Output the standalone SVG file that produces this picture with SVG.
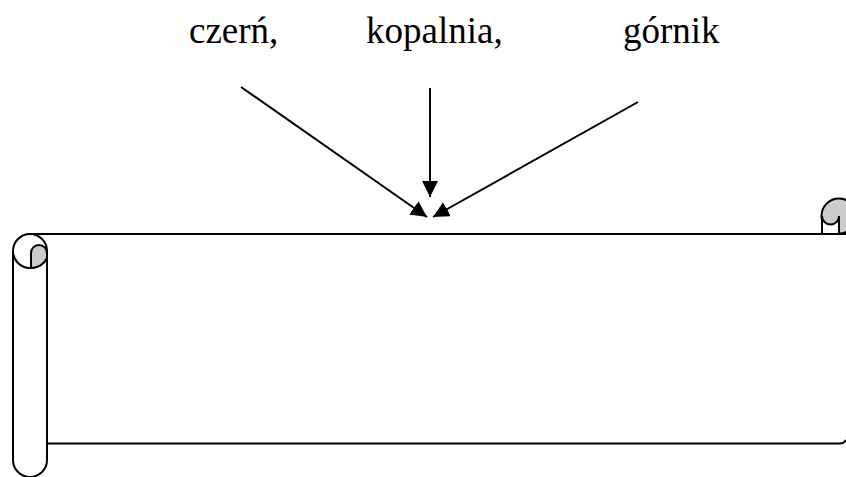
<svg xmlns="http://www.w3.org/2000/svg" width="846" height="477" viewBox="0 0 846 477">
<style>
.ln{stroke:#000;stroke-width:2;fill:none}
.t{font-family:"Liberation Serif","Times New Roman",serif;font-size:37px;fill:#000}
.gray{fill:#cccccc;stroke:#000;stroke-width:2}
</style>
<defs>
<marker id="arr" viewBox="0 0 16 16" refX="16" refY="8" markerWidth="16" markerHeight="16" markerUnits="userSpaceOnUse" orient="auto">
<path d="M0,0 L16,8 L0,16 Z" fill="#000"/>
</marker>
</defs>
<rect width="846" height="477" fill="#fff"/>
<g id="labels">
<text class="t" x="189" y="43">czerń,</text>
<text class="t" x="366" y="43">kopalnia,</text>
<text class="t" x="623" y="43">górnik</text>
</g>
<g id="scroll">
<path class="ln" d="M30,234 L846,234"/>
<path class="ln" d="M47,443.5 L840,443.5 Q844,443.5 846,440"/>
<path class="ln" d="M13,251 L13,460 A17,17 0 0 0 47,460 L47,251"/>
<circle class="ln" cx="30" cy="251" r="17"/>
<path class="gray" d="M31,268 L31,253 A8,8 0 0 1 47,253 L47,258 A17,17 0 0 1 31,268 Z"/>
<circle class="gray" cx="839" cy="216" r="17.5"/>
<path d="M822,216 A8.5,8.5 0 0 0 839,216 L839,233 L822,233 Z" fill="#fff" stroke="none"/>
<path class="ln" d="M822,216 L822,234 M839,216 L839,234 M822,216 A8.5,8.5 0 0 0 839,216"/>
</g>
<g id="connectors">
<line class="ln" x1="241" y1="87" x2="427" y2="217" marker-end="url(#arr)"/>
<line class="ln" x1="430" y1="88" x2="430" y2="197" marker-end="url(#arr)"/>
<line class="ln" x1="638" y1="102" x2="433" y2="217" marker-end="url(#arr)"/>
</g>
</svg>
